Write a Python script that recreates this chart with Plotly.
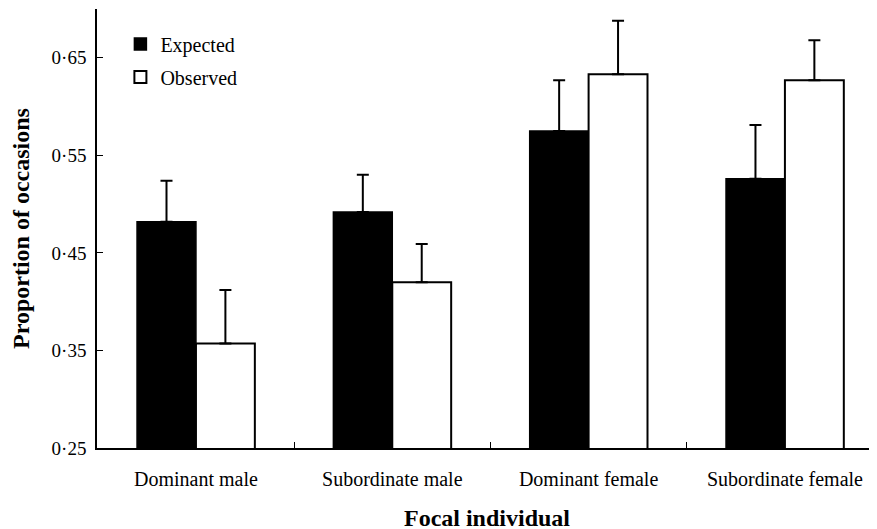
import plotly.graph_objects as go

categories = ["Dominant male", "Subordinate male", "Dominant female", "Subordinate female"]
expected = [0.482, 0.492, 0.575, 0.526]
expected_err = [0.042, 0.038, 0.052, 0.055]
observed = [0.357, 0.420, 0.633, 0.627]
observed_err = [0.055, 0.039, 0.055, 0.041]
ytick_vals = [0.25, 0.35, 0.45, 0.55, 0.65]
ytick_text = ["0·25", "0·35", "0·45", "0·55", "0·65"]

FONT = "Liberation Serif, Times New Roman, serif"

fig = go.Figure()
fig.add_trace(go.Bar(
    x=categories, y=expected, name="Expected",
    marker=dict(color="black", line=dict(color="black", width=1.5)),
    error_y=dict(type="data", symmetric=False, array=expected_err,
                 arrayminus=[0] * len(expected_err),
                 color="black", thickness=2, width=6),
    legend="legend", showlegend=True,
))
fig.add_trace(go.Bar(
    x=categories, y=observed, name="Observed",
    marker=dict(color="white", line=dict(color="black", width=2)),
    error_y=dict(type="data", symmetric=False, array=observed_err,
                 arrayminus=[0] * len(observed_err),
                 color="black", thickness=2, width=6),
    legend="legend2", showlegend=True,
))

fig.update_layout(
    width=877, height=529,
    margin=dict(l=89, r=8, t=1, b=89),
    paper_bgcolor="white", plot_bgcolor="white",
    showlegend=True,
    barmode="group", bargap=0.4, bargroupgap=0,
    font=dict(family=FONT, size=20, color="black"),
    legend=dict(x=0.03, y=0.92, xanchor="left", yanchor="middle",
                bgcolor="rgba(0,0,0,0)", font=dict(size=20, family=FONT)),
    legend2=dict(x=0.03, y=0.845, xanchor="left", yanchor="middle",
                 bgcolor="rgba(0,0,0,0)", font=dict(size=20, family=FONT)),
    xaxis=dict(
        type="category", range=[-0.504, 3.469],
        showline=True, linecolor="black", linewidth=1.5,
        ticks="inside", tickson="boundaries", ticklen=6, tickcolor="black", tickwidth=1,
        tickfont=dict(size=20, family=FONT),
        ticklabelstandoff=12,
        title=dict(text="<b>Focal individual</b>", font=dict(size=24, family=FONT), standoff=20),
        showgrid=False, zeroline=False,
    ),
    yaxis=dict(
        range=[0.25, 0.70],
        tickvals=ytick_vals, ticktext=ytick_text,
        showline=True, linecolor="black", linewidth=1.5,
        ticks="inside", ticklen=6, tickcolor="black", tickwidth=1,
        tickfont=dict(size=19, family=FONT),
        ticklabelstandoff=5,
        title=dict(text="<b>Proportion of occasions</b>", font=dict(size=24, family=FONT), standoff=16),
        showgrid=False, zeroline=False,
    ),
)

fig.write_html("out.html")
